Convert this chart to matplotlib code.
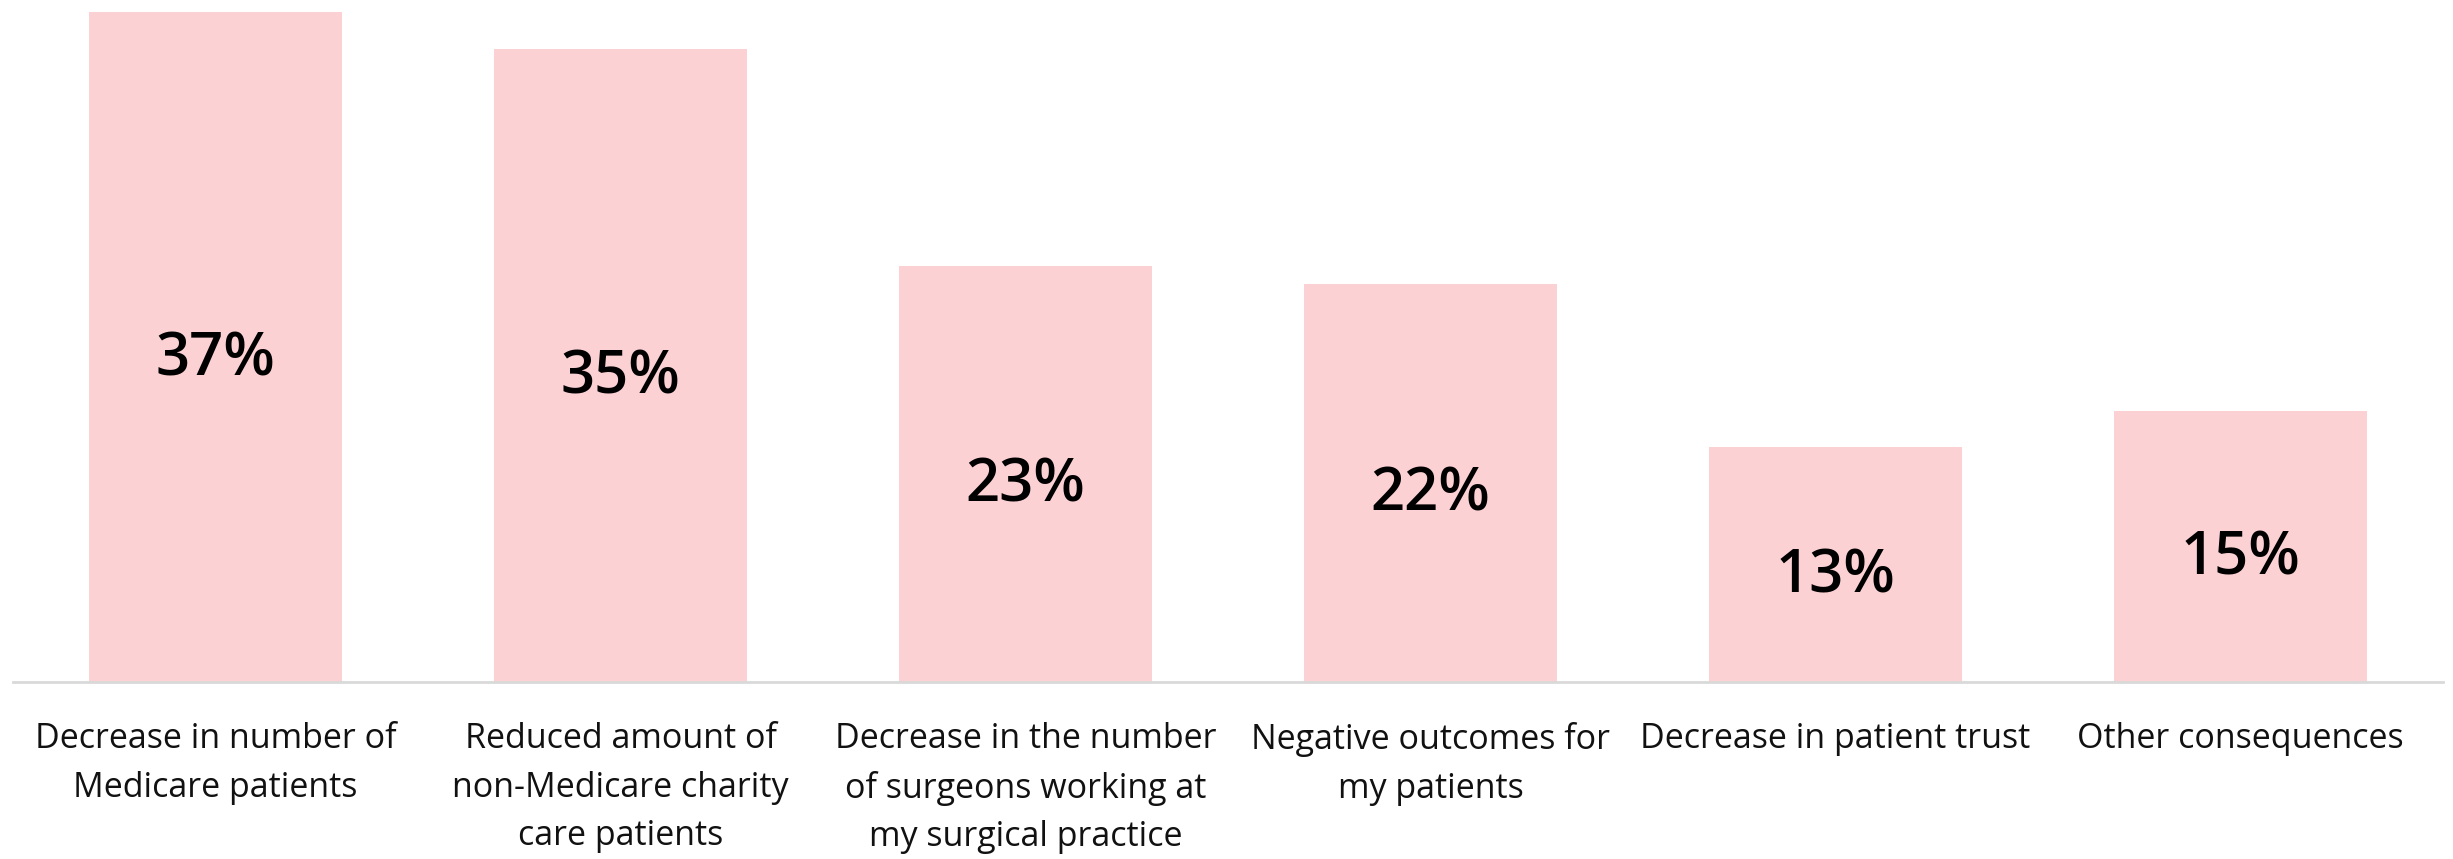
import matplotlib.pyplot as plt

categories = [
    "Decrease in number of\nMedicare patients",
    "Reduced amount of\nnon-Medicare charity\ncare patients",
    "Decrease in the number\nof surgeons working at\nmy surgical practice",
    "Negative outcomes for\nmy patients",
    "Decrease in patient trust",
    "Other consequences",
]
values = [37, 35, 23, 22, 13, 15]

plt.rcParams['font.family'] = ['Open Sans', 'DejaVu Sans']

fig = plt.figure(figsize=(24.53, 8.59), dpi=100)
ax = fig.add_axes([13 / 2453, (859 - 682) / 859, 2430 / 2453, 682 / 859])

x = list(range(len(values)))
ax.bar(x, values, width=0.625, color='#FCD1D3')

for xi, v in zip(x, values):
    ax.annotate(f"{v}%", (xi, v / 2), xytext=(0, -4), textcoords='offset points',
                ha='center', va='center_baseline',
                fontsize=43, fontweight='semibold', color='black')

ax.set_xlim(-0.5, len(values) - 0.5)
ax.set_ylim(0, 682 / 18.1)
ax.set_xticks(x)
ax.set_xticklabels(categories, fontsize=24.5, linespacing=1.55, color='#111111')
ax.tick_params(axis='x', length=0, pad=29)
ax.set_yticks([])

for s in ['top', 'right', 'left']:
    ax.spines[s].set_visible(False)
ax.spines['bottom'].set_color('#D9D9D9')
ax.spines['bottom'].set_linewidth(2)

fig.savefig('out.png', dpi=100)
